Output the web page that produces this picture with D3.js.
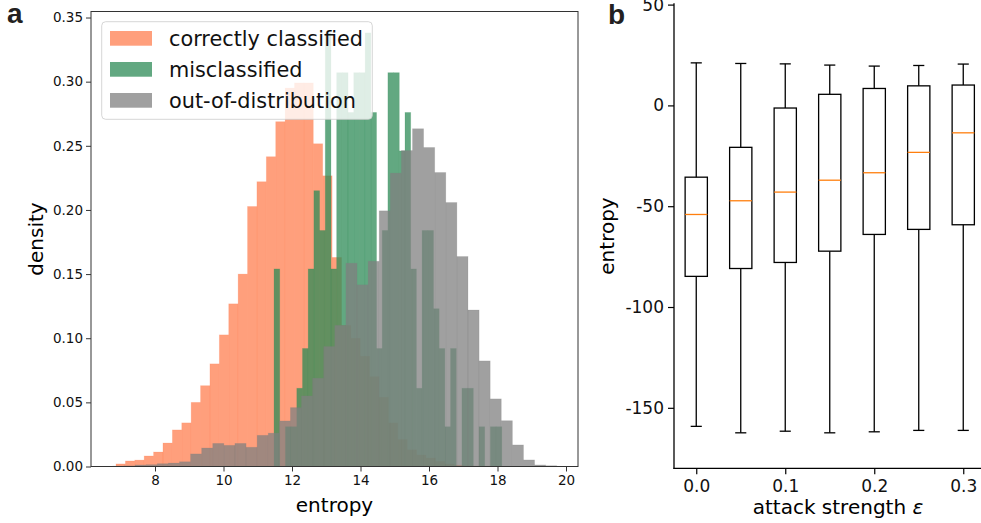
<!DOCTYPE html>
<html>
<head>
<meta charset="utf-8">
<script src="https://cdn.jsdelivr.net/npm/d3@7"></script>
<style>
  body { margin: 0; background: #fff; }
  svg { display: block; font-family: "DejaVu Sans", sans-serif; }
</style>
</head>
<body>
<svg id="chart" width="981" height="523"></svg>
<script>
// ── panel a: entropy histograms (density, 40 bins each) ─────────────────────
var correctStart = 6.861, correctWidth = 0.2743;
var correctDensity = [
  0.002, 0.0043, 0.005, 0.0082, 0.0113, 0.0183, 0.0285, 0.034, 0.050, 0.063,
  0.080, 0.1026, 0.1268, 0.150, 0.2027, 0.222, 0.2415, 0.2688, 0.295, 0.299,
  0.299, 0.2516, 0.2266, 0.163, 0.11, 0.10, 0.086, 0.07, 0.054, 0.034,
  0.021, 0.013, 0.009, 0.0066, 0.004, 0.002, 0.001, 0.0005, 0.0003, 0.0002
];

var misStart = 11.475, misWidth = 0.16625;
var misDensity = [
  0.154, 0, 0.031, 0.031, 0.061, 0.092, 0.154, 0.215, 0.184, 0.338,
  0.154, 0.307, 0.307, 0.276, 0.307, 0.307, 0.338, 0.276, 0.092, 0.184,
  0.307, 0.307, 0.246, 0.276, 0.154, 0.061, 0.184, 0.184, 0.123, 0.092,
  0.031, 0.092, 0, 0.061, 0.061, 0, 0.031, 0, 0.031, 0.031
];

var oodStart = 6.77, oodWidth = 0.324;
var oodDensity = [
  0.0003, 0.0005, 0.0012, 0.0014, 0.0022, 0.0027, 0.0037, 0.0098, 0.0144, 0.018,
  0.0165, 0.018, 0.015, 0.0243, 0.026, 0.0355, 0.0459, 0.055, 0.0688, 0.0935,
  0.110, 0.1585, 0.1416, 0.160, 0.1993, 0.2287, 0.2463, 0.2633, 0.2487, 0.2292,
  0.2058, 0.1637, 0.122, 0.0823, 0.0527, 0.0357, 0.0168, 0.0051, 0.0012, 0.0006
];

var histLabels = ["correctly classified", "misclassified", "out-of-distribution"];
var histTicksX = [8, 10, 12, 14, 16, 18, 20];
var histTicksY = [0, 0.05, 0.10, 0.15, 0.20, 0.25, 0.30, 0.35];

// ── panel b: entropy vs attack strength (box plots) ─────────────────────────
var epsilons    = [0, 0.05, 0.10, 0.15, 0.20, 0.25, 0.30];
var whiskerHigh = [21.1, 20.8, 20.6, 20.0, 19.5, 19.8, 20.5];
var quart3      = [-35.6, -20.8, -1.3, 5.5, 8.4, 9.7, 10.1];
var medians     = [-54.1, -47.3, -43.0, -37.1, -33.4, -23.3, -13.6];
var quart1      = [-84.8, -80.9, -77.9, -72.3, -64.0, -61.5, -59.2];
var whiskerLow  = [-159.2, -162.4, -161.6, -162.4, -161.9, -161.2, -161.2];
var boxTicksX = [0, 0.1, 0.2, 0.3];
var boxTicksY = [-150, -100, -50, 0, 50];

var svg = d3.select("#chart");
var COL = { correct: "#ff7f50", mis: "#2e8b57", ood: "#808080", ink: "#231f20" };
var ALPHA = 0.75;

// ────────────────────────────────────────────────────────────────────────────
// Panel a
// ────────────────────────────────────────────────────────────────────────────
var xL = d3.scaleLinear().domain([6.131, 20.35]).range([91, 578]);
var yL = d3.scaleLinear().domain([0, 0.3547]).range([466.5, 11.5]);

function bins(start, width, vals) {
  return vals.map(function (v, i) {
    return { x0: start + i * width, x1: start + (i + 1) * width, h: v };
  }).filter(function (b) { return b.h > 0; });
}

var a = svg.append("g");

[
  { data: bins(correctStart, correctWidth, correctDensity), color: COL.correct },
  { data: bins(misStart, misWidth, misDensity), color: COL.mis },
  { data: bins(oodStart, oodWidth, oodDensity), color: COL.ood }
].forEach(function (s) {
  a.append("g").selectAll("rect").data(s.data).enter().append("rect")
    .attr("x", function (d) { return xL(d.x0); })
    .attr("y", function (d) { return yL(d.h); })
    .attr("width", function (d) { return xL(d.x1) - xL(d.x0); })
    .attr("height", function (d) { return yL(0) - yL(d.h); })
    .attr("fill", s.color)
    .attr("fill-opacity", ALPHA)
    .attr("stroke", s.color)
    .attr("stroke-opacity", 0.22)
    .attr("stroke-width", 0.8);
});

var axL = a.append("g");
axL.append("g")
  .attr("transform", "translate(0,466.5)")
  .call(d3.axisBottom(xL).tickValues(histTicksX).tickSize(5).tickPadding(4).tickFormat(d3.format("d")));
axL.append("g")
  .attr("transform", "translate(91,0)")
  .call(d3.axisLeft(yL).tickValues(histTicksY).tickSize(5).tickPadding(3).tickFormat(d3.format(".2f")));
axL.selectAll(".domain").remove();
axL.selectAll("text").attr("font-family", "DejaVu Sans").attr("font-size", 13.5).attr("fill", "#111");
axL.selectAll("line").attr("stroke", "#333");

a.append("rect")
  .attr("x", 91).attr("y", 11.5).attr("width", 487).attr("height", 455)
  .attr("fill", "none").attr("stroke", "#333").attr("stroke-width", 1);

a.append("text")
  .attr("transform", "translate(36,239) rotate(-90)")
  .attr("text-anchor", "middle").attr("dominant-baseline", "central")
  .attr("font-size", 20).text("density");
a.append("text")
  .attr("x", 334.5).attr("y", 505)
  .attr("text-anchor", "middle").attr("dominant-baseline", "central")
  .attr("font-size", 20).text("entropy");

// legend
var leg = a.append("g");
leg.append("rect")
  .attr("x", 101.7).attr("y", 21.7).attr("width", 270.6).attr("height", 97.6).attr("rx", 4)
  .attr("fill", "#fff").attr("fill-opacity", 0.8)
  .attr("stroke", "#ccc").attr("stroke-opacity", 0.8);
[COL.correct, COL.mis, COL.ood].forEach(function (c, i) {
  var y = 31 + i * 31;
  leg.append("rect").attr("x", 110).attr("y", y).attr("width", 42).attr("height", 14.7)
    .attr("fill", c).attr("fill-opacity", ALPHA);
  leg.append("text").attr("x", 169).attr("y", y + 7.5)
    .attr("dominant-baseline", "central").attr("font-size", 20.8).attr("fill", "#111")
    .text(histLabels[i]);
});

svg.append("text").attr("x", 7).attr("y", 23)
  .attr("font-family", "Liberation Sans, Arial, sans-serif").attr("font-weight", "bold")
  .attr("font-size", 28).attr("fill", COL.ink).text("a");

// ────────────────────────────────────────────────────────────────────────────
// Panel b
// ────────────────────────────────────────────────────────────────────────────
var xR = d3.scaleLinear().domain([-0.025, 0.325]).range([674, 985.5]);
var yR = d3.scaleLinear().domain([-180, 50]).range([468.3, 4.6]);
var boxW = 0.025, capW = 0.0125;

var b = svg.append("g");
var boxes = epsilons.map(function (e, i) {
  return { e: e, hi: whiskerHigh[i], q3: quart3[i], med: medians[i], q1: quart1[i], lo: whiskerLow[i] };
});

var bx = b.append("g").selectAll("g").data(boxes).enter().append("g")
  .attr("stroke", "#000").attr("stroke-width", 1.3).attr("fill", "none");
// whiskers
bx.append("line")
  .attr("x1", function (d) { return xR(d.e); }).attr("x2", function (d) { return xR(d.e); })
  .attr("y1", function (d) { return yR(d.hi); }).attr("y2", function (d) { return yR(d.q3); });
bx.append("line")
  .attr("x1", function (d) { return xR(d.e); }).attr("x2", function (d) { return xR(d.e); })
  .attr("y1", function (d) { return yR(d.q1); }).attr("y2", function (d) { return yR(d.lo); });
// caps
bx.append("line")
  .attr("x1", function (d) { return xR(d.e - capW / 2); }).attr("x2", function (d) { return xR(d.e + capW / 2); })
  .attr("y1", function (d) { return yR(d.hi); }).attr("y2", function (d) { return yR(d.hi); });
bx.append("line")
  .attr("x1", function (d) { return xR(d.e - capW / 2); }).attr("x2", function (d) { return xR(d.e + capW / 2); })
  .attr("y1", function (d) { return yR(d.lo); }).attr("y2", function (d) { return yR(d.lo); });
// box
bx.append("rect")
  .attr("x", function (d) { return xR(d.e - boxW / 2); })
  .attr("width", function (d) { return xR(d.e + boxW / 2) - xR(d.e - boxW / 2); })
  .attr("y", function (d) { return yR(d.q3); })
  .attr("height", function (d) { return yR(d.q1) - yR(d.q3); });
// median
bx.append("line")
  .attr("stroke", "#ff7f0e")
  .attr("x1", function (d) { return xR(d.e - boxW / 2); }).attr("x2", function (d) { return xR(d.e + boxW / 2); })
  .attr("y1", function (d) { return yR(d.med); }).attr("y2", function (d) { return yR(d.med); });

var axR = b.append("g");
axR.append("g")
  .attr("transform", "translate(0,468.3)")
  .call(d3.axisBottom(xR).tickValues(boxTicksX).tickSize(6).tickPadding(5.5).tickFormat(d3.format(".1f")));
axR.append("g")
  .attr("transform", "translate(674,0)")
  .call(d3.axisLeft(yR).tickValues(boxTicksY).tickSize(6).tickPadding(4)
    .tickFormat(function (d) { return d < 0 ? "-" + Math.abs(d) : String(d); }));
axR.selectAll(".domain").remove();
axR.selectAll("text").attr("font-family", "DejaVu Sans").attr("font-size", 17).attr("fill", "#111");
axR.selectAll("line").attr("stroke", "#000").attr("stroke-width", 1.2);

b.append("line").attr("x1", 674).attr("x2", 674).attr("y1", 3.3).attr("y2", 468.9)
  .attr("stroke", "#000").attr("stroke-width", 1.3);
b.append("line").attr("x1", 673.4).attr("x2", 985.5).attr("y1", 468.3).attr("y2", 468.3)
  .attr("stroke", "#000").attr("stroke-width", 1.3);

b.append("text")
  .attr("transform", "translate(607,236) rotate(-90)")
  .attr("text-anchor", "middle").attr("dominant-baseline", "central")
  .attr("font-size", 20).text("entropy");
var xl = b.append("text")
  .attr("x", 838).attr("y", 507)
  .attr("text-anchor", "middle").attr("dominant-baseline", "central")
  .attr("font-size", 20);
xl.append("tspan").text("attack strength ");
xl.append("tspan").attr("font-style", "italic").text("ε");

svg.append("text").attr("x", 608).attr("y", 24)
  .attr("font-family", "Liberation Sans, Arial, sans-serif").attr("font-weight", "bold")
  .attr("font-size", 28).attr("fill", COL.ink).text("b");
</script>
</body>
</html>
